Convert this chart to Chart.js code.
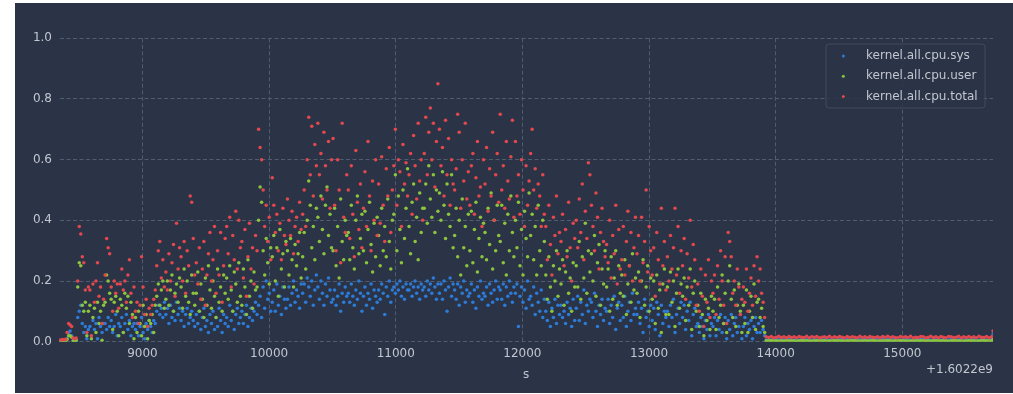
<!DOCTYPE html>
<html>
<head>
<meta charset="utf-8">
<title>kernel.all.cpu</title>
<script src="https://cdn.jsdelivr.net/npm/chart.js@4/dist/chart.umd.min.js"></script>
<style>
  html, body { margin: 0; padding: 0; background: #ffffff; }
  #panel { position: absolute; left: 15px; top: 3px; width: 998px; height: 390px; background: #2b3446; }
  canvas { display: block; }
</style>
</head>
<body>
<div id="panel"><canvas id="cpu" width="998" height="390"></canvas></div>
<script>
// CPU utilisation samples (fraction of one CPU), time in seconds past 1.6022e9.
const seriesNames = ['kernel.all.cpu.sys', 'kernel.all.cpu.user', 'kernel.all.cpu.total'];
const timeOffsetLabel = '+1.6022e9';
const xTicks = [9000, 10000, 11000, 12000, 13000, 14000, 15000];
const yTicks = [0, 0.2, 0.4, 0.6, 0.8, 1.0];

const times = [
  8345,8357,8369,8381,8393,8405,8417,8429,8441,8453,
  8465,8477,8489,8501,8513,8525,8537,8549,8561,8573,
  8585,8597,8609,8621,8633,8645,8657,8669,8681,8693,
  8705,8717,8729,8741,8753,8765,8777,8789,8801,8813,
  8825,8837,8849,8861,8873,8885,8897,8909,8921,8933,
  8945,8957,8969,8981,8993,9005,9017,9029,9041,9053,
  9065,9077,9089,9101,9113,9125,9137,9149,9161,9173,
  9185,9197,9209,9221,9233,9245,9257,9269,9281,9293,
  9305,9317,9329,9341,9353,9365,9377,9389,9401,9413,
  9425,9437,9449,9461,9473,9485,9497,9509,9521,9533,
  9545,9557,9569,9581,9593,9605,9617,9629,9641,9653,
  9665,9677,9689,9701,9713,9725,9737,9749,9761,9773,
  9785,9797,9809,9821,9833,9845,9857,9869,9881,9893,
  9905,9917,9929,9941,9953,9965,9977,9989,10001,10013,
  10025,10037,10049,10061,10073,10085,10097,10109,10121,10133,
  10145,10157,10169,10181,10193,10205,10217,10229,10241,10253,
  10265,10277,10289,10301,10313,10325,10337,10349,10361,10373,
  10385,10397,10409,10421,10433,10445,10457,10469,10481,10493,
  10505,10517,10529,10541,10553,10565,10577,10589,10601,10613,
  10625,10637,10649,10661,10673,10685,10697,10709,10721,10733,
  10745,10757,10769,10781,10793,10805,10817,10829,10841,10853,
  10865,10877,10889,10901,10913,10925,10937,10949,10961,10973,
  10985,10997,11009,11021,11033,11045,11057,11069,11081,11093,
  11105,11117,11129,11141,11153,11165,11177,11189,11201,11213,
  11225,11237,11249,11261,11273,11285,11297,11309,11321,11333,
  11345,11357,11369,11381,11393,11405,11417,11429,11441,11453,
  11465,11477,11489,11501,11513,11525,11537,11549,11561,11573,
  11585,11597,11609,11621,11633,11645,11657,11669,11681,11693,
  11705,11717,11729,11741,11753,11765,11777,11789,11801,11813,
  11825,11837,11849,11861,11873,11885,11897,11909,11921,11933,
  11945,11957,11969,11981,11993,12005,12017,12029,12041,12053,
  12065,12077,12089,12101,12113,12125,12137,12149,12161,12173,
  12185,12197,12209,12221,12233,12245,12257,12269,12281,12293,
  12305,12317,12329,12341,12353,12365,12377,12389,12401,12413,
  12425,12437,12449,12461,12473,12485,12497,12509,12521,12533,
  12545,12557,12569,12581,12593,12605,12617,12629,12641,12653,
  12665,12677,12689,12701,12713,12725,12737,12749,12761,12773,
  12785,12797,12809,12821,12833,12845,12857,12869,12881,12893,
  12905,12917,12929,12941,12953,12965,12977,12989,13001,13013,
  13025,13037,13049,13061,13073,13085,13097,13109,13121,13133,
  13145,13157,13169,13181,13193,13205,13217,13229,13241,13253,
  13265,13277,13289,13301,13313,13325,13337,13349,13361,13373,
  13385,13397,13409,13421,13433,13445,13457,13469,13481,13493,
  13505,13517,13529,13541,13553,13565,13577,13589,13601,13613,
  13625,13637,13649,13661,13673,13685,13697,13709,13721,13733,
  13745,13757,13769,13781,13793,13805,13817,13829,13841,13853,
  13865,13877,13889,13901,13913,
  13925,13945,13965,13985,14005,14025,14045,14065,14085,14105,
  14125,14145,14165,14185,14205,14225,14245,14265,14285,14305,
  14325,14345,14365,14385,14405,14425,14445,14465,14485,14505,
  14525,14545,14565,14585,14605,14625,14645,14665,14685,14705,
  14725,14745,14765,14785,14805,14825,14845,14865,14885,14905,
  14925,14945,14965,14985,15005,15025,15045,15065,15085,15105,
  15125,15145,15165,15185,15205,15225,15245,15265,15285,15305,
  15325,15345,15365,15385,15405,15425,15445,15465,15485,15505,
  15525,15545,15565,15585,15605,15625,15645,15665,15685,15705,
  15716
];

const cpuSys = [
  .002,.002,.003,.002,.003,.01,.03,.035,.02,.004,
  .004,.005,.08,.1,.12,.06,.03,.05,.01,.04,
  .05,.02,.07,.04,.06,.01,.08,.05,.03,.06,
  .06,.04,.08,.05,.07,.03,.05,.09,.02,.06,
  .05,.08,.03,.06,.09,.04,.07,.02,.05,.06,
  .04,.06,.02,.05,.08,.03,.01,.06,.04,.07,
  .05,.03,.07,.06,.1,.12,.09,.11,.08,.13,
  .09,.11,.06,.12,.08,.1,.07,.13,.09,.11,
  .07,.1,.05,.09,.11,.06,.08,.1,.07,.05,
  .09,.06,.1,.04,.08,.11,.05,.07,.03,.09,
  .06,.1,.04,.08,.05,.11,.07,.03,.09,.06,
  .08,.05,.12,.07,.1,.04,.09,.11,.06,.08,
  .1,.06,.09,.12,.05,.08,.11,.07,.1,.13,
  .09,.12,.15,.08,.18,.11,.2,.14,.16,.1,
  .13,.17,.1,.19,.12,.15,.09,.18,.14,.11,
  .14,.18,.12,.16,.2,.13,.17,.15,.11,.19,
  .16,.19,.13,.21,.18,.15,.2,.12,.17,.22,
  .18,.14,.2,.16,.12,.19,.15,.21,.17,.13,
  .14,.17,.12,.15,.19,.1,.16,.13,.18,.15,
  .16,.13,.19,.15,.12,.17,.14,.2,.16,.1,
  .15,.18,.12,.16,.14,.19,.11,.17,.15,.13,
  .17,.14,.19,.16,.09,.18,.15,.2,.13,.17,
  .18,.16,.19,.17,.2,.15,.18,.14,.19,.17,
  .17,.19,.15,.18,.2,.16,.18,.14,.19,.17,
  .18,.15,.2,.17,.19,.16,.21,.18,.14,.19,
  .16,.19,.14,.2,.17,.1,.18,.21,.15,.19,
  .17,.14,.19,.12,.18,.16,.2,.13,.17,.15,
  .16,.19,.13,.17,.11,.18,.15,.2,.14,.16,
  .15,.18,.12,.19,.16,.13,.17,.2,.14,.18,
  .17,.14,.19,.12,.18,.15,.2,.16,.13,.18,
  .16,.19,.05,.15,.18,.13,.17,.11,.2,.14,
  .15,.12,.18,.09,.16,.13,.1,.17,.08,.14,
  .1,.07,.13,.05,.11,.08,.14,.06,.12,.09,
  .12,.08,.1,.06,.13,.09,.11,.05,.14,.07,
  .11,.15,.07,.13,.09,.17,.06,.12,.1,.14,
  .13,.08,.16,.1,.05,.12,.09,.14,.07,.11,
  .1,.14,.06,.12,.08,.15,.04,.11,.13,.07,
  .12,.08,.15,.05,.1,.13,.07,.16,.09,.11,
  .09,.13,.06,.11,.03,.14,.08,.1,.05,.12,
  .07,.11,.04,.13,.09,.02,.12,.06,.1,.08,
  .1,.05,.12,.08,.14,.03,.09,.11,.06,.13,
  .08,.12,.04,.1,.07,.13,.02,.09,.11,.05,
  .06,.03,.08,.05,.01,.07,.04,.09,.02,.06,
  .05,.08,.02,.07,.04,.09,.03,.06,.08,.01,
  .07,.04,.09,.02,.06,.08,.03,.05,.09,.01,
  .05,.08,.02,.06,.04,.07,.01,.05,.08,.03,
  .06,.03,.07,.04,.02,
  .006,.007,.006,.008,.006,.007,.006,.006,.008,.007,
  .007,.006,.008,.006,.007,.006,.007,.008,.006,.007,
  .006,.007,.006,.007,.008,.006,.007,.006,.006,.008,
  .007,.006,.007,.008,.006,.007,.006,.007,.006,.008,
  .006,.008,.007,.006,.007,.006,.008,.006,.007,.006,
  .008,.006,.007,.006,.006,.008,.007,.006,.007,.007,
  .006,.007,.008,.006,.007,.006,.007,.006,.008,.006,
  .007,.006,.006,.008,.007,.006,.007,.007,.006,.008,
  .006,.008,.007,.006,.006,.007,.008,.006,.007,.006,
  .025
];

const cpuUser = [
  .002,.002,.002,.003,.002,.008,.02,.02,.015,.003,
  .003,.004,.18,.26,.25,.12,.1,.13,.02,.1,
  .12,.01,.08,.11,.03,.13,.06,.1,.005,.12,
  .13,.22,.2,.16,.14,.04,.13,.15,.1,.02,
  .14,.12,.03,.16,.11,.15,.06,.13,.09,.01,
  .08,.03,.1,.06,.02,.12,.05,.09,.01,.07,
  .06,.09,.03,.12,.15,.19,.12,.17,.2,.11,
  .14,.2,.12,.17,.22,.1,.16,.19,.13,.21,
  .18,.11,.24,.15,.2,.13,.09,.22,.16,.12,
  .16,.23,.1,.19,.14,.08,.21,.12,.25,.17,
  .11,.2,.15,.08,.24,.13,.18,.1,.22,.16,
  .21,.14,.25,.17,.1,.23,.19,.13,.26,.15,
  .12,.24,.18,.09,.27,.15,.2,.11,.23,.17,
  .18,.4,.51,.46,.3,.22,.34,.26,.19,.31,
  .28,.35,.2,.31,.15,.37,.24,.29,.18,.33,
  .3,.22,.34,.27,.18,.32,.25,.29,.36,.21,
  .28,.36,.24,.4,.53,.45,.31,.38,.27,.44,
  .41,.33,.48,.37,.29,.45,.51,.35,.42,.31,
  .3,.44,.25,.38,.21,.47,.33,.27,.4,.35,
  .36,.27,.45,.31,.24,.4,.48,.29,.34,.42,
  .3,.43,.26,.37,.46,.32,.23,.39,.28,.41,
  .35,.25,.44,.3,.38,.28,.47,.33,.24,.4,
  .42,.55,.3,.48,.37,.26,.5,.34,.44,.57,
  .38,.29,.46,.52,.33,.41,.27,.49,.36,.44,
  .44,.52,.39,.58,.47,.41,.55,.36,.5,.43,
  .49,.4,.56,.45,.34,.52,.42,.38,.55,.31,
  .35,.44,.28,.4,.22,.47,.31,.38,.25,.42,
  .3,.43,.26,.37,.46,.23,.34,.41,.28,.39,
  .36,.27,.44,.32,.49,.24,.4,.3,.45,.35,
  .33,.45,.26,.39,.22,.42,.3,.48,.36,.28,
  .4,.31,.46,.25,.37,.22,.43,.34,.28,.49,
  .35,.42,.27,.38,.22,.45,.3,.25,.4,.33,
  .22,.14,.28,.18,.1,.25,.2,.3,.15,.24,
  .19,.27,.12,.23,.3,.16,.21,.1,.26,.18,
  .25,.18,.33,.14,.28,.21,.39,.16,.3,.23,
  .29,.2,.35,.15,.26,.32,.12,.24,.19,.3,
  .18,.24,.1,.28,.14,.21,.3,.12,.25,.16,
  .22,.15,.27,.09,.19,.25,.13,.29,.17,.21,
  .16,.23,.08,.2,.27,.12,.18,.25,.1,.21,
  .14,.2,.06,.22,.11,.17,.03,.19,.24,.09,
  .18,.09,.23,.13,.2,.05,.16,.24,.11,.19,
  .15,.21,.07,.18,.12,.24,.04,.16,.2,.1,
  .12,.05,.16,.09,.02,.14,.07,.11,.04,.15,
  .1,.14,.04,.18,.08,.12,.22,.06,.16,.03,
  .2,.25,.14,.08,.17,.05,.12,.19,.1,.03,
  .12,.06,.17,.03,.1,.15,.08,.19,.04,.13,
  .14,.08,.11,.05,.03,
  .003,.003,.004,.003,.003,.002,.003,.003,.004,.003,
  .003,.003,.002,.003,.004,.003,.003,.003,.002,.003,
  .004,.003,.003,.003,.002,.003,.003,.004,.003,.003,
  .003,.002,.003,.003,.004,.003,.003,.002,.003,.003,
  .003,.003,.004,.003,.002,.003,.003,.003,.004,.003,
  .002,.003,.003,.004,.003,.003,.002,.003,.003,.003,
  .003,.004,.003,.003,.003,.002,.003,.004,.003,.003,
  .003,.003,.002,.003,.004,.003,.003,.003,.002,.003,
  .004,.003,.003,.002,.003,.003,.004,.003,.003,.003,
  .01
];

const cpuTotal = [
  .006,.006,.007,.006,.008,.03,.06,.055,.05,.012,
  .01,.012,.2,.38,.355,.28,.26,.17,.03,.18,
  .17,.02,.19,.13,.2,.26,.15,.18,.06,.14,
  .22,.34,.31,.29,.18,.1,.2,.16,.19,.11,
  .19,.24,.17,.2,.13,.22,.27,.16,.08,.18,
  .1,.13,.06,.12,.28,.18,.09,.14,.05,.11,
  .09,.12,.14,.17,.25,.3,.33,.21,.27,.18,
  .23,.17,.29,.2,.26,.32,.15,.39,.24,.31,
  .28,.2,.33,.16,.3,.25,.48,.46,.34,.22,
  .26,.19,.31,.14,.24,.33,.12,.22,.29,.36,
  .2,.27,.38,.16,.3,.22,.36,.13,.25,.34,
  .38,.29,.41,.18,.35,.27,.43,.24,.4,.31,
  .33,.21,.37,.15,.28,.39,.24,.31,.19,.35,
  .3,.7,.64,.6,.5,.38,.45,.33,.41,.27,
  .54,.45,.36,.42,.3,.39,.27,.44,.35,.32,
  .47,.4,.35,.43,.29,.38,.41,.33,.46,.37,
  .42,.5,.38,.6,.74,.55,.71,.48,.65,.58,
  .72,.55,.62,.47,.69,.58,.5,.66,.44,.6,
  .67,.45,.3,.6,.5,.26,.72,.41,.36,.55,
  .5,.34,.58,.42,.28,.63,.46,.37,.52,.31,
  .44,.56,.38,.66,.48,.3,.53,.4,.6,.35,
  .52,.39,.61,.45,.33,.57,.48,.64,.36,.5,
  .58,.7,.45,.6,.56,.38,.65,.52,.59,.48,
  .55,.62,.42,.68,.58,.47,.72,.53,.6,.4,
  .62,.74,.55,.69,.77,.6,.72,.51,.66,.85,
  .7,.58,.64,.48,.73,.55,.67,.45,.6,.52,
  .5,.57,.75,.69,.44,.6,.53,.72,.47,.56,
  .45,.58,.62,.42,.54,.66,.48,.51,.38,.6,
  .52,.64,.43,.57,.48,.69,.4,.55,.62,.46,
  .75,.5,.58,.44,.66,.53,.47,.61,.73,.41,
  .66,.48,.55,.42,.6,.5,.38,.58,.45,.53,
  .62,.7,.5,.57,.44,.52,.48,.38,.55,.42,
  .38,.27,.45,.32,.22,.41,.35,.48,.29,.36,
  .33,.42,.25,.37,.28,.46,.31,.2,.39,.34,
  .4,.31,.47,.36,.52,.27,.43,.34,.59,.55,
  .45,.38,.3,.49,.41,.24,.36,.44,.33,.28,
  .32,.26,.4,.21,.35,.29,.45,.19,.37,.24,
  .27,.38,.22,.33,.43,.25,.36,.2,.31,.41,
  .29,.35,.2,.41,.26,.33,.5,.23,.38,.3,
  .22,.31,.15,.36,.27,.19,.44,.25,.33,.17,
  .28,.2,.35,.24,.31,.44,.22,.38,.16,.3,
  .25,.34,.14,.29,.21,.4,.18,.32,.27,.12,
  .19,.1,.24,.15,.05,.22,.13,.27,.08,.2,
  .16,.22,.09,.25,.14,.3,.2,.12,.28,.06,
  .36,.33,.28,.16,.2,.12,.24,.18,.09,.14,
  .18,.13,.24,.1,.16,.21,.12,.25,.15,.28,
  .2,.24,.16,.13,.08,
  .016,.014,.017,.013,.015,.018,.014,.016,.013,.017,
  .014,.016,.013,.017,.015,.014,.018,.013,.016,.015,
  .017,.013,.015,.016,.014,.018,.013,.016,.014,.017,
  .015,.013,.017,.014,.016,.015,.013,.018,.014,.016,
  .013,.017,.015,.014,.016,.013,.017,.015,.018,.014,
  .016,.014,.013,.017,.015,.016,.014,.018,.013,.015,
  .014,.017,.016,.013,.015,.018,.014,.016,.013,.017,
  .015,.013,.017,.016,.014,.015,.018,.013,.016,.014,
  .017,.014,.016,.013,.018,.015,.014,.017,.013,.016,
  .035
];

// Styling
const TEXT = '#c2c6cf';
const GRID = '#525c70';
const FONT = { family: '"DejaVu Sans", sans-serif', size: 12 };
const COLORS = { sys: '#2d7bd8', user: '#8cc43e', total: '#e2484d' };

const toPoints = vals => times.map((t, i) => ({ x: t, y: vals[i] }));

// Boxed legend in the upper-right corner of the plot area.
const boxedLegend = {
  id: 'boxedLegend',
  afterDatasetsDraw(chart) {
    const { ctx, chartArea } = chart;
    const w = 159, h = 64, r = 3;
    const x = chartArea.right - 8 - w;
    const y = chartArea.top + 5.7;
    ctx.save();
    ctx.beginPath();
    ctx.moveTo(x + r, y);
    ctx.lineTo(x + w - r, y);
    ctx.arcTo(x + w, y, x + w, y + r, r);
    ctx.lineTo(x + w, y + h - r);
    ctx.arcTo(x + w, y + h, x + w - r, y + h, r);
    ctx.lineTo(x + r, y + h);
    ctx.arcTo(x, y + h, x, y + h - r, r);
    ctx.lineTo(x, y + r);
    ctx.arcTo(x, y, x + r, y, r);
    ctx.closePath();
    ctx.fillStyle = 'rgba(43,52,70,0.85)';
    ctx.fill();
    ctx.strokeStyle = 'rgba(92,102,122,0.45)';
    ctx.lineWidth = 1;
    ctx.stroke();
    ctx.font = '12px "DejaVu Sans", sans-serif';
    ctx.textBaseline = 'middle';
    ctx.textAlign = 'left';
    const items = chart.data.datasets.slice().reverse();
    items.forEach((ds, k) => {
      const cy = y + 12 + k * 20.3;
      ctx.fillStyle = ds.backgroundColor;
      ctx.beginPath();
      ctx.arc(x + 17.3, cy, 1.5, 0, Math.PI * 2);
      ctx.fill();
      ctx.fillStyle = TEXT;
      ctx.fillText(ds.label, x + 40, cy);
    });
    ctx.restore();
  }
};

// Offset text for the time axis, under its right end.
const axisOffset = {
  id: 'axisOffset',
  afterDraw(chart) {
    const { ctx, chartArea } = chart;
    ctx.save();
    ctx.font = '12px "DejaVu Sans", sans-serif';
    ctx.fillStyle = TEXT;
    ctx.textAlign = 'right';
    ctx.textBaseline = 'middle';
    ctx.fillText(timeOffsetLabel, chartArea.right, chartArea.bottom + 28.3);
    ctx.restore();
  }
};

const makeSet = (label, vals, color) => ({
  label,
  data: toPoints(vals),
  backgroundColor: color,
  borderColor: color,
  pointRadius: 1.75,
  pointHoverRadius: 1.75,
  pointBorderWidth: 0,
  showLine: false
});

new Chart(document.getElementById('cpu'), {
  type: 'scatter',
  data: {
    // first dataset is drawn last, so total sits on top
    datasets: [
      makeSet(seriesNames[2], cpuTotal, COLORS.total),
      makeSet(seriesNames[1], cpuUser, COLORS.user),
      makeSet(seriesNames[0], cpuSys, COLORS.sys)
    ]
  },
  options: {
    responsive: false,
    animation: false,
    events: [],
    layout: { padding: { left: 0, right: 20, top: 35.3, bottom: 0 } },
    plugins: { legend: { display: false }, tooltip: { enabled: false } },
    scales: {
      x: {
        type: 'linear',
        min: times[0],
        max: times[times.length - 1],
        afterBuildTicks: s => { s.ticks = xTicks.map(v => ({ value: v })); },
        afterFit: s => { s.height = 51.3; },
        ticks: { padding: 5, color: TEXT, font: FONT, maxRotation: 0, autoSkip: false, callback: v => String(v) },
        title: { display: true, text: 's', color: TEXT, font: FONT, padding: { top: 0, bottom: 10.8 } },
        grid: { color: GRID, lineWidth: 1, drawTicks: false },
        border: { display: false, dash: [4, 2.5] }
      },
      y: {
        type: 'linear',
        min: 0,
        max: 1,
        afterBuildTicks: s => { s.ticks = yTicks.map(v => ({ value: v })); },
        afterFit: s => { s.width = 44.5; },
        ticks: { padding: 7.5, color: TEXT, font: FONT, callback: v => v.toFixed(1) },
        grid: { color: GRID, lineWidth: 1, drawTicks: false },
        border: { display: false, dash: [4, 2.5] }
      }
    }
  },
  plugins: [boxedLegend, axisOffset]
});
</script>
</body>
</html>
